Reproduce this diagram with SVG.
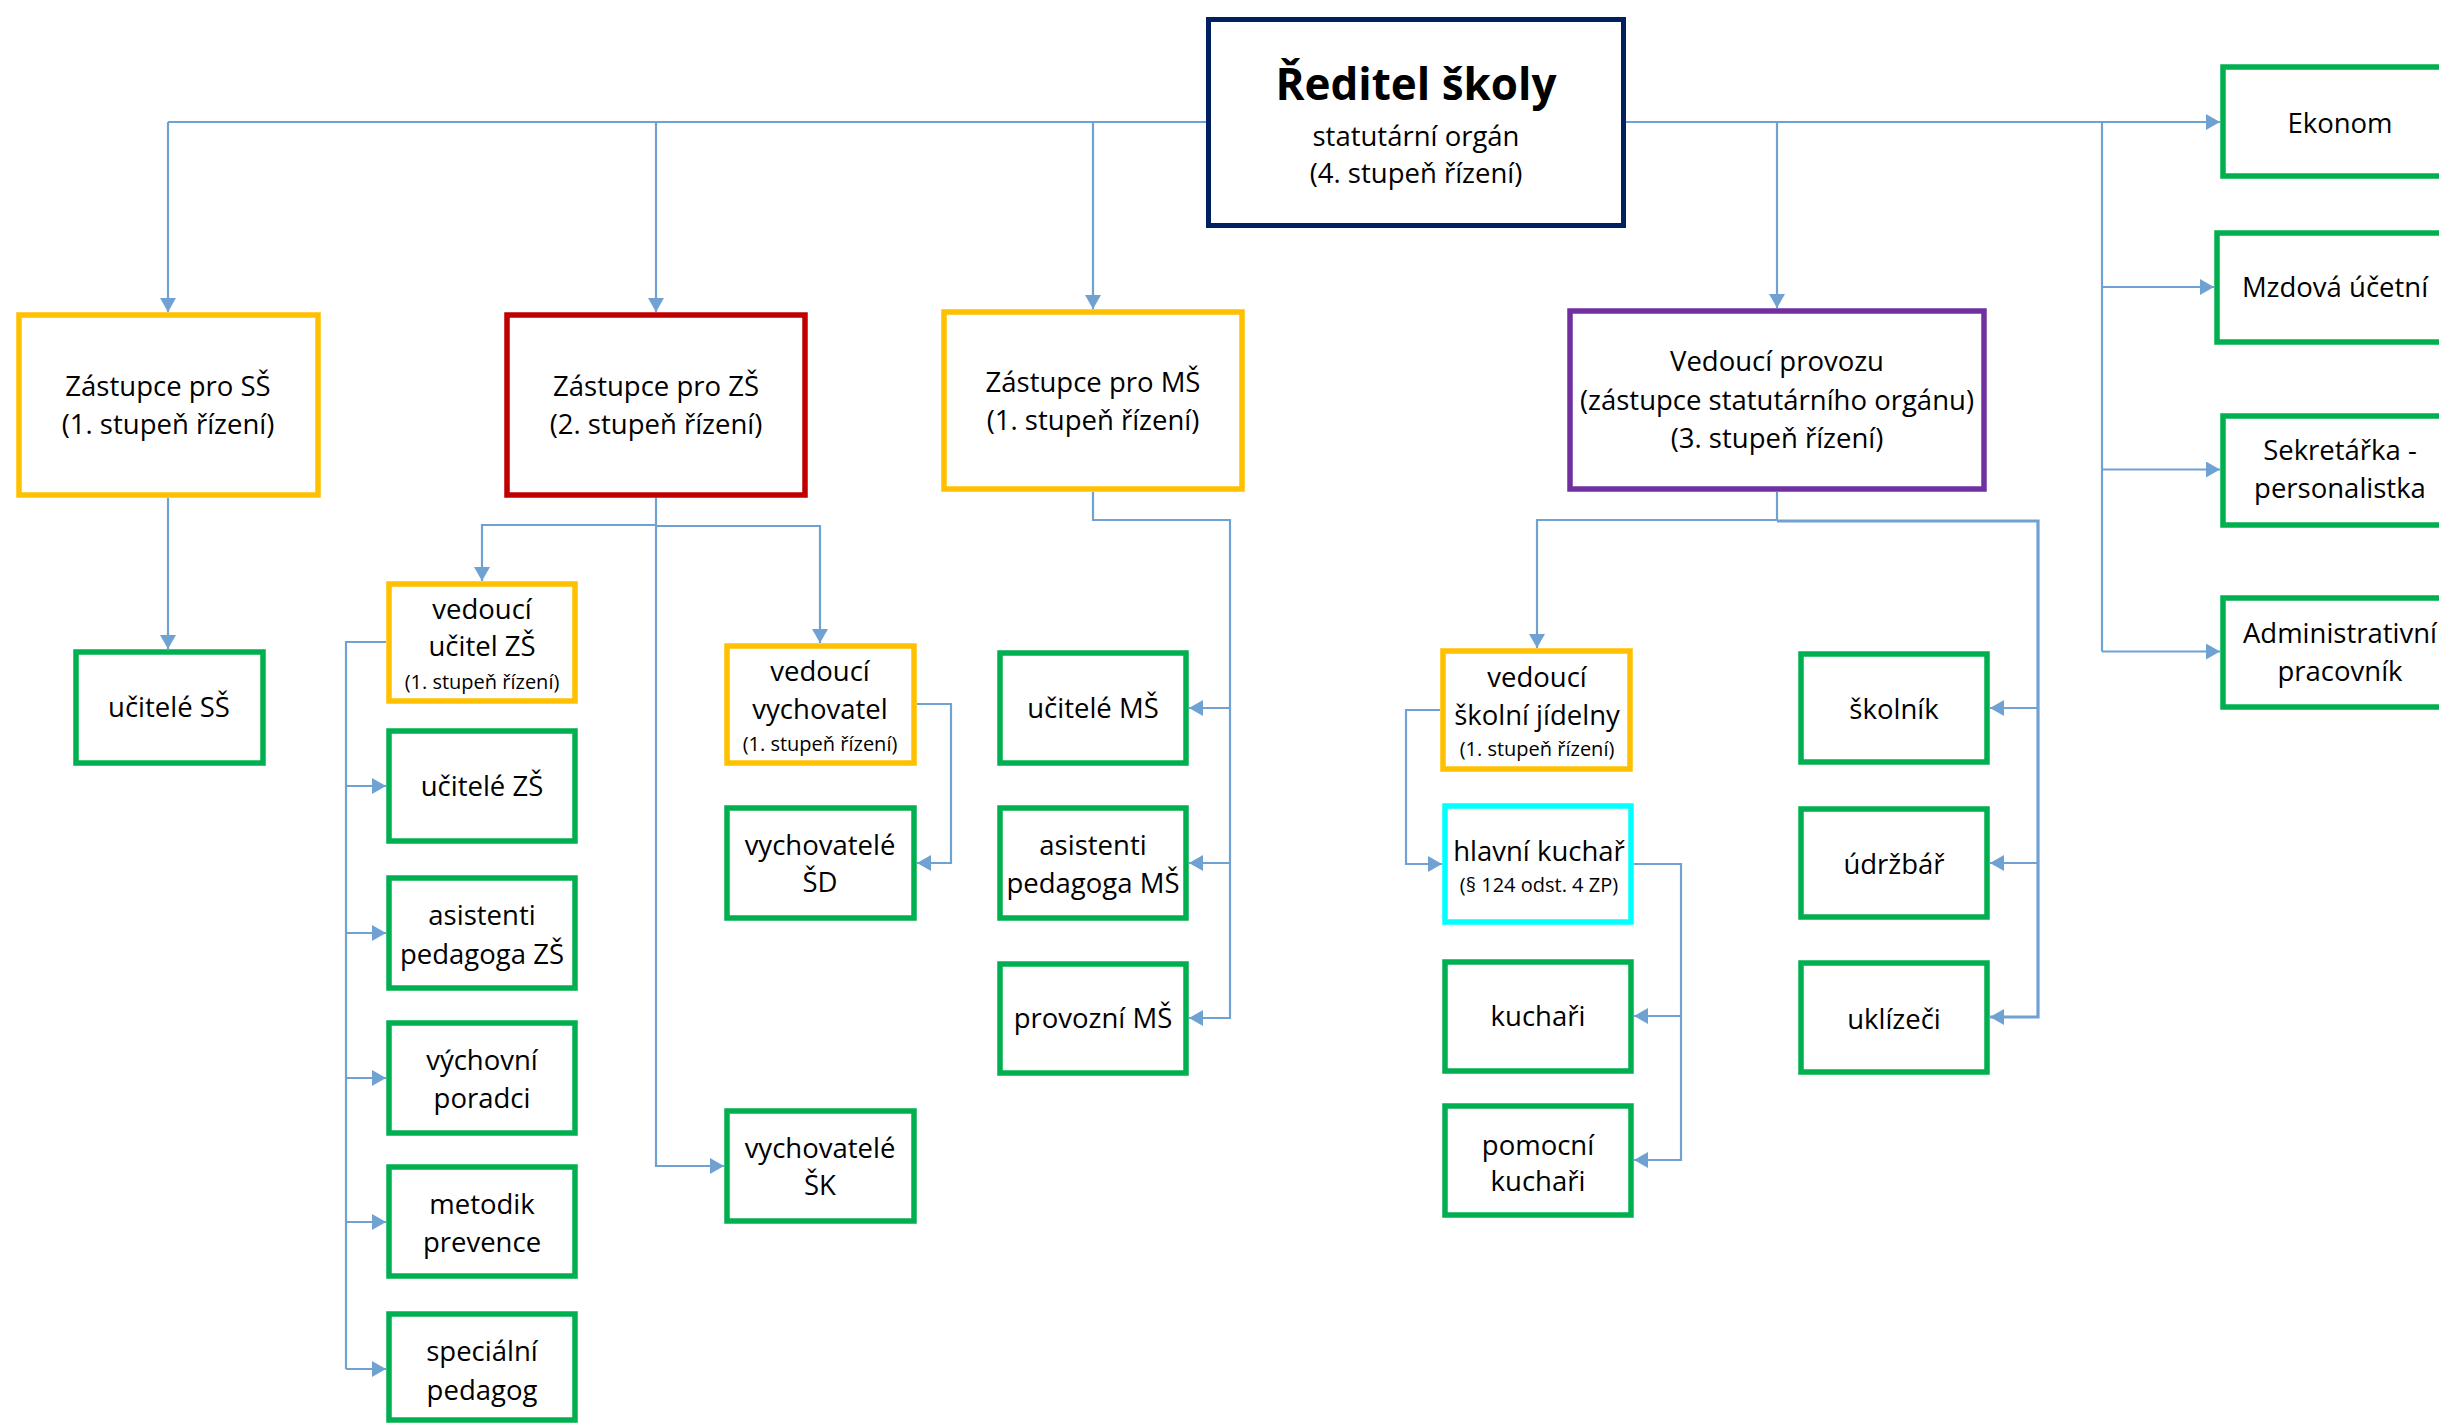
<svg xmlns="http://www.w3.org/2000/svg" width="2439" height="1424" viewBox="0 0 2439 1424">
<defs>
<marker id="arr" markerUnits="userSpaceOnUse" markerWidth="15" markerHeight="16" refX="14" refY="8" orient="auto" viewBox="0 0 15 16">
<path d="M0,0 L14,8 L0,16 z" fill="#6FA2D3"/>
</marker>
<style>
.c{fill:none;stroke:#6FA2D3;stroke-width:2.2}
.ca{fill:none;stroke:#6FA2D3;stroke-width:2.2;marker-end:url(#arr)}
.b{fill:#fff;stroke-width:5.5}
.y{stroke:#FFC000}.r{stroke:#C00000}.g{stroke:#00B050}.p{stroke:#7030A0}.k{stroke:#00FFFF}.n{stroke:#002060;stroke-width:5}
text{font-family:"Open Sans","Noto Sans","DejaVu Sans",sans-serif;font-size:27.5px;fill:#000;text-anchor:middle}
.s{font-size:20px}
.t{font-size:44px;font-weight:bold}
</style>
</defs>
<g id="connectors">
<path class="c" d="M1206,122 H168"/>
<path class="ca" d="M168,122 V312"/>
<path class="ca" d="M656,122 V312"/>
<path class="ca" d="M1093,122 V309"/>
<path class="ca" d="M1626,122 H2220"/>
<path class="ca" d="M1777,122 V308"/>
<path class="c" d="M2102,122 V651.5"/>
<path class="ca" d="M2102,287 H2214"/>
<path class="ca" d="M2102,469.5 H2220"/>
<path class="ca" d="M2102,651.5 H2220"/>
<path class="ca" d="M168,498 V649"/>
<path class="ca" d="M656,498 V1166 H724"/>
<path class="ca" d="M656,525 H482 V581"/>
<path class="ca" d="M656,526 H820 V643"/>
<path class="c" d="M386,642 H346 V1369"/>
<path class="ca" d="M346,786 H386"/>
<path class="ca" d="M346,933 H386"/>
<path class="ca" d="M346,1078 H386"/>
<path class="ca" d="M346,1222 H386"/>
<path class="ca" d="M346,1369 H386"/>
<path class="ca" d="M917,704 H951 V863 H917"/>
<path class="ca" d="M1093,492 V520 H1230 V1018 H1189"/>
<path class="ca" d="M1230,708 H1189"/>
<path class="ca" d="M1230,863 H1189"/>
<path class="ca" d="M1777,492 V520 H1537 V648"/>
<path class="ca" d="M1777,521 H2038 V1017 H1990" style="stroke-width:3.2"/>
<path class="ca" d="M2038,708 H1990"/>
<path class="ca" d="M2038,863 H1990"/>
<path class="ca" d="M1440,710 H1406 V864 H1442"/>
<path class="ca" d="M1634,864 H1681 V1160 H1634"/>
<path class="ca" d="M1681,1016 H1634"/>
</g>
<g id="reditel"><rect class="b n" x="1208.5" y="19.5" width="415" height="206"/>
<text class="t" x="1416" y="100">Ředitel školy</text>
<text x="1416" y="146">statutární orgán</text>
<text x="1416" y="183">(4. stupeň řízení)</text></g>
<g id="zastupce-ss"><rect class="b y" x="19" y="315" width="299" height="180"/>
<text x="168" y="396">Zástupce pro SŠ</text><text x="168" y="434">(1. stupeň řízení)</text></g>
<g id="zastupce-zs"><rect class="b r" x="507" y="315" width="298" height="180"/>
<text x="656" y="396">Zástupce pro ZŠ</text><text x="656" y="434">(2. stupeň řízení)</text></g>
<g id="zastupce-ms"><rect class="b y" x="944" y="312" width="298" height="177"/>
<text x="1093" y="392">Zástupce pro MŠ</text><text x="1093" y="430">(1. stupeň řízení)</text></g>
<g id="vedouci-provozu"><rect class="b p" x="1570" y="311" width="414" height="178"/>
<text x="1777" y="371">Vedoucí provozu</text><text x="1777" y="410">(zástupce statutárního orgánu)</text><text x="1777" y="448">(3. stupeň řízení)</text></g>
<g id="ekonom"><rect class="b g" x="2223" y="67" width="236" height="109"/>
<text x="2340" y="133">Ekonom</text></g>
<g id="mzdova"><rect class="b g" x="2217" y="233" width="238" height="109"/>
<text x="2335" y="297">Mzdová účetní</text></g>
<g id="sekretarka"><rect class="b g" x="2223" y="416" width="236" height="109"/>
<text x="2340" y="460">Sekretářka -</text><text x="2340" y="498">personalistka</text></g>
<g id="administrativni"><rect class="b g" x="2223" y="598" width="236" height="109"/>
<text x="2340" y="643">Administrativní</text><text x="2340" y="681">pracovník</text></g>
<g id="ucitele-ss"><rect class="b g" x="76" y="652" width="187" height="111"/>
<text x="169" y="717">učitelé SŠ</text></g>
<g id="vedouci-ucitel-zs"><rect class="b y" x="389" y="584" width="186" height="117"/>
<text x="482" y="619">vedoucí</text><text x="482" y="656">učitel ZŠ</text><text class="s" x="482" y="689">(1. stupeň řízení)</text></g>
<g id="ucitele-zs"><rect class="b g" x="389" y="731" width="186" height="110"/>
<text x="482" y="796">učitelé ZŠ</text></g>
<g id="asistenti-zs"><rect class="b g" x="389" y="878" width="186" height="110"/>
<text x="482" y="925">asistenti</text><text x="482" y="964">pedagoga ZŠ</text></g>
<g id="vychovni-poradci"><rect class="b g" x="389" y="1023" width="186" height="110"/>
<text x="482" y="1070">výchovní</text><text x="482" y="1108">poradci</text></g>
<g id="metodik"><rect class="b g" x="389" y="1167" width="186" height="109"/>
<text x="482" y="1214">metodik</text><text x="482" y="1252">prevence</text></g>
<g id="specialni"><rect class="b g" x="389" y="1314" width="186" height="106"/>
<text x="482" y="1361">speciální</text><text x="482" y="1400">pedagog</text></g>
<g id="vedouci-vychovatel"><rect class="b y" x="727" y="646" width="187" height="117"/>
<text x="820" y="681">vedoucí</text><text x="820" y="719">vychovatel</text><text class="s" x="820" y="751">(1. stupeň řízení)</text></g>
<g id="vychovatele-sd"><rect class="b g" x="727" y="808" width="187" height="110"/>
<text x="820" y="855">vychovatelé</text><text x="820" y="892">ŠD</text></g>
<g id="vychovatele-sk"><rect class="b g" x="727" y="1111" width="187" height="110"/>
<text x="820" y="1158">vychovatelé</text><text x="820" y="1195">ŠK</text></g>
<g id="ucitele-ms"><rect class="b g" x="1000" y="653" width="186" height="110"/>
<text x="1093" y="718">učitelé MŠ</text></g>
<g id="asistenti-ms"><rect class="b g" x="1000" y="808" width="186" height="110"/>
<text x="1093" y="855">asistenti</text><text x="1093" y="893">pedagoga MŠ</text></g>
<g id="provozni-ms"><rect class="b g" x="1000" y="964" width="186" height="109"/>
<text x="1093" y="1028">provozní MŠ</text></g>
<g id="vedouci-jidelny"><rect class="b y" x="1443" y="651" width="187" height="118"/>
<text x="1537" y="687">vedoucí</text><text x="1537" y="725">školní jídelny</text><text class="s" x="1537" y="756">(1. stupeň řízení)</text></g>
<g id="hlavni-kuchar"><rect class="b k" x="1445" y="806" width="186" height="116"/>
<text x="1539" y="861">hlavní kuchař</text><text class="s" x="1539" y="892">(§ 124 odst. 4 ZP)</text></g>
<g id="kuchari"><rect class="b g" x="1445" y="962" width="186" height="109"/>
<text x="1538" y="1026">kuchaři</text></g>
<g id="pomocni-kuchari"><rect class="b g" x="1445" y="1106" width="186" height="109"/>
<text x="1538" y="1155">pomocní</text><text x="1538" y="1191">kuchaři</text></g>
<g id="skolnik"><rect class="b g" x="1801" y="654" width="186" height="108"/>
<text x="1894" y="719">školník</text></g>
<g id="udrzbar"><rect class="b g" x="1801" y="809" width="186" height="108"/>
<text x="1894" y="874">údržbář</text></g>
<g id="uklizeci"><rect class="b g" x="1801" y="963" width="186" height="109"/>
<text x="1894" y="1029">uklízeči</text></g>
</svg>
